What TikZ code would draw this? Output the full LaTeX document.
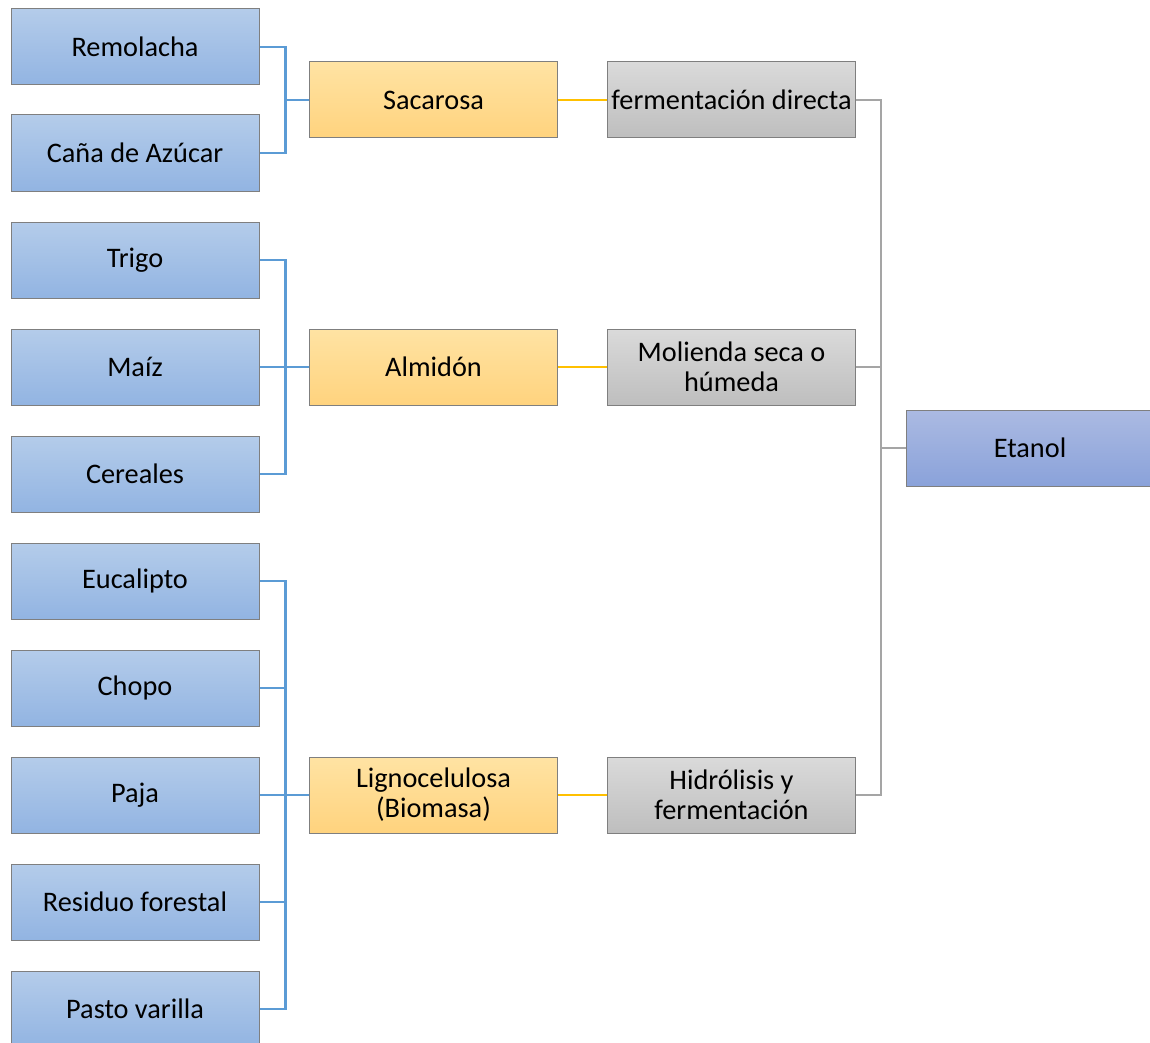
\documentclass[tikz,border=0pt]{standalone}
\usepackage{fontspec}
\setmainfont{Carlito}
\definecolor{rawtop}{HTML}{B4CCEA}
\definecolor{rawbot}{HTML}{92B4E2}
\definecolor{midtop}{HTML}{FFE3A3}
\definecolor{midbot}{HTML}{FFD37E}
\definecolor{proctop}{HTML}{DADADA}
\definecolor{procbot}{HTML}{BEBEBE}
\definecolor{endtop}{HTML}{ABBAE2}
\definecolor{endbot}{HTML}{8AA2DA}
\definecolor{boxborder}{HTML}{7F7F7F}
\definecolor{blueline}{HTML}{5B9BD5}
\definecolor{yellowline}{HTML}{FFC000}
\definecolor{grayline}{HTML}{A5A5A5}
\begin{document}
\begin{tikzpicture}[x=1pt,y=-1pt,
  box/.style={draw=boxborder, line width=1pt, minimum width=248pt, minimum height=76pt,
    inner sep=2pt, align=center, font=\fontsize{28.3}{30}\selectfont},
  raw/.style={box, top color=rawtop, bottom color=rawbot},
  mid/.style={box, top color=midtop, bottom color=midbot},
  proc/.style={box, top color=proctop, bottom color=procbot},
  final/.style={box, top color=endtop, bottom color=endbot},
  bl/.style={draw=blueline, line width=2.4pt},
  yl/.style={draw=yellowline, line width=2.4pt},
  gl/.style={draw=grayline, line width=2.4pt}]
\useasboundingbox (0,0) rectangle (1150,1043);
% connectors behind boxes
\begin{scope}
\end{scope}
% raw materials
\node[raw] (rem) at (135,47) {Remolacha};
\node[raw] (cana) at (135,153) {Caña de Azúcar};
\node[raw] (trigo) at (135,260) {Trigo};
\node[raw] (maiz) at (135,367) {Maíz};
\node[raw] (cer) at (135,474) {Cereales};
\node[raw] (euc) at (135,581) {Eucalipto};
\node[raw] (chopo) at (135,688) {Chopo};
\node[raw] (paja) at (135,795) {Paja};
\node[raw] (res) at (135,902) {Residuo forestal};
\node[raw] (pasto) at (135,1009) {Pasto varilla};
% intermediates
\node[mid] (sac) at (433.5,100) {Sacarosa};
\node[mid] (alm) at (433.5,367) {Almidón};
\node[mid] (lig) at (433.5,795) {Lignocelulosa\\(Biomasa)};
% processes
\node[proc] (fer) at (731.5,100) {fermentación directa};
\node[proc] (mol) at (731.5,367) {Molienda seca o\\húmeda};
\node[proc] (hid) at (731.5,795) {Hidrólisis y\\fermentación};
% product
\node[final] (eta) at (1030,448) {Etanol};
% blue connectors
\draw[bl] (rem.east) -- ++(26,0) |- (sac.west);
\draw[bl] (cana.east) -- ++(26,0) |- (sac.west);
\draw[bl] (trigo.east) -- ++(26,0) |- (alm.west);
\draw[bl] (maiz.east) -- (alm.west);
\draw[bl] (cer.east) -- ++(26,0) |- (alm.west);
\draw[bl] (euc.east) -- ++(26,0) |- (lig.west);
\draw[bl] (chopo.east) -- ++(26,0) |- (lig.west);
\draw[bl] (paja.east) -- (lig.west);
\draw[bl] (res.east) -- ++(26,0) |- (lig.west);
\draw[bl] (pasto.east) -- ++(26,0) |- (lig.west);
% yellow connectors
\draw[yl] (sac.east) -- (fer.west);
\draw[yl] (alm.east) -- (mol.west);
\draw[yl] (lig.east) -- (hid.west);
% gray connectors
\draw[gl] (fer.east) -- ++(25,0) |- (eta.west);
\draw[gl] (mol.east) -- ++(25,0) |- (eta.west);
\draw[gl] (hid.east) -- ++(25,0) |- (eta.west);
\end{tikzpicture}
\end{document}
